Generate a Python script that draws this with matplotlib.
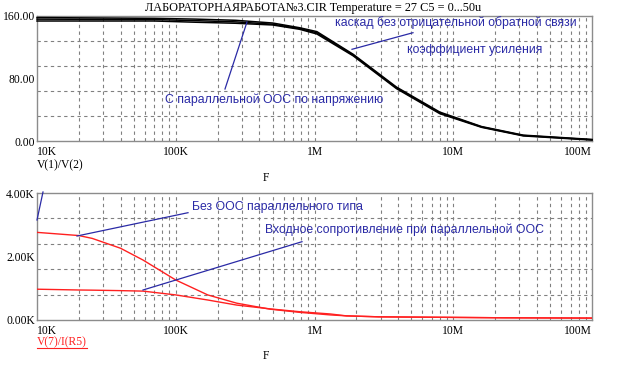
import matplotlib
matplotlib.use("Agg")
import matplotlib.pyplot as plt
import numpy as np
from matplotlib.lines import Line2D

W, H = 622, 369
DPI = 100

# ---------------- data ----------------
title = "ЛАБОРАТОРНАЯРАБОТА№3.CIR Temperature = 27 C5 = 0...50u"

freq_gain = [1e4, 7e4, 1.4e5, 2.7e5, 5e5, 7.8e5, 1.04e6, 1.9e6, 3.9e6, 8e6, 1.6e7, 3.2e7, 1e8]
gain_upper = [158, 157, 156, 154.5, 151, 145, 140, 111, 69, 37, 18.5, 7.5, 2.0]
gain_mid = [156, 155.5, 154, 152.5, 149.5, 144, 138.5, 110, 68, 36, 18, 7, 1.6]
gain_lower = [153.6, 153.6, 152, 150.7, 148.5, 143, 137, 109, 67, 35, 17.5, 6.5, 1.2]

freq_z = [1e4, 2e4, 2.5e4, 4e4, 5.8e4, 1e5, 1.7e5, 2.75e5, 4.8e5, 7.85e5, 1.3e6, 1.7e6, 2.9e6, 2.3e7, 1e8]
z_no_fb = [2.76, 2.66, 2.57, 2.26, 1.89, 1.26, 0.79, 0.53, 0.34, 0.24, 0.16, 0.13, 0.10, 0.07, 0.06]
z_fb = [0.97, 0.945, 0.94, 0.925, 0.91, 0.79, 0.63, 0.47, 0.35, 0.26, 0.19, 0.13, 0.10, 0.07, 0.06]

x_ticks = [1e4, 1e5, 1e6, 1e7, 1e8]
x_ticklabels = ["10K", "100K", "1M", "10M", "100M"]
gain_ticks = [0, 80, 160]
gain_ticklabels = ["0.00", "80.00", "160.00"]
z_ticks = [0, 2, 4]
z_ticklabels = ["0.00K", "2.00K", "4.00K"]

# ---------------- style ----------------
SERIF = ["Liberation Serif", "DejaVu Serif"]
SANS = ["Liberation Sans", "DejaVu Sans"]
BLUE = "#2a2aa6"
RED = "#ff2020"
GRID = "#808080"
FRAME = "#8c8c8c"
TICKFS = 8.4

fig = plt.figure(figsize=(W / DPI, H / DPI), dpi=DPI)
fig.patch.set_facecolor("white")


def px_axes(left, top, right, bottom):
    return fig.add_axes([left / W, 1 - bottom / H, (right - left) / W, (bottom - top) / H])


def fx(x):
    return x / W


def fy(y):
    return 1 - y / H


def setup(ax, ymax, ngrid, yticks, yticklabels):
    ax.set_xscale("log")
    ax.set_xlim(1e4, 1e8)
    ax.set_ylim(0, ymax)
    for s in ax.spines.values():
        s.set_color(FRAME)
        s.set_linewidth(1.0)
    # grid
    for dec in [1e4, 1e5, 1e6, 1e7]:
        for m in range(1, 10):
            v = dec * m
            if v <= 1e4 or v >= 1e8:
                continue
            ax.axvline(v, color=GRID, lw=0.8, ls=(0, (3, 3)), zorder=0)
    for i in range(1, ngrid):
        ax.axhline(ymax * i / ngrid, color=GRID, lw=0.8, ls=(0, (3, 3)), zorder=0)
    ax.set_xticks(x_ticks)
    ax.set_xticklabels(x_ticklabels)
    ax.xaxis.set_minor_locator(matplotlib.ticker.NullLocator())
    ax.set_yticks(yticks)
    ax.set_yticklabels(yticklabels)
    ax.tick_params(axis="x", length=0, pad=3.5)
    ax.tick_params(axis="y", length=0, pad=1.5)
    for lab in ax.get_xticklabels() + ax.get_yticklabels():
        lab.set_family(SERIF)
        lab.set_fontsize(TICKFS)
        lab.set_color("black")
    xl = ax.get_xticklabels()
    xl[0].set_horizontalalignment("left")
    xl[-1].set_horizontalalignment("right")


# ---------------- top plot ----------------
ax1 = px_axes(37, 16, 592, 141)
setup(ax1, 160, 5, gain_ticks, gain_ticklabels)
for g in (gain_upper, gain_mid, gain_lower):
    ax1.plot(freq_gain, g, color="black", lw=1.1, zorder=3, clip_on=False)

# ---------------- bottom plot ----------------
ax2 = px_axes(37, 193, 592, 320)
setup(ax2, 4, 5, z_ticks, z_ticklabels)
ax2.plot(freq_z, z_no_fb, color=RED, lw=1.0, zorder=3)
ax2.plot(freq_z, z_fb, color=RED, lw=1.0, zorder=3)

# ---------------- texts ----------------
fig.text(fx(313), fy(8), title, family=SERIF, fontsize=8.8, ha="center", va="center")
fig.text(fx(37), fy(165), "V(1)/V(2)", family=SERIF, fontsize=TICKFS, ha="left", va="center")
fig.text(fx(266), fy(178), "F", family=SERIF, fontsize=TICKFS, ha="center", va="center")
fig.text(fx(37), fy(342), "V(7)/I(R5)", family=SERIF, fontsize=TICKFS, ha="left", va="center", color=RED)
fig.add_artist(Line2D([fx(37), fx(87)], [fy(347.5), fy(347.5)], color=RED, lw=0.8))
fig.text(fx(266), fy(356), "F", family=SERIF, fontsize=TICKFS, ha="center", va="center")

ANN = dict(family=SANS, fontsize=8.8, color=BLUE, ha="left", va="center")
fig.text(fx(335), fy(23), "каскад без отрицательной обратной связи", **ANN)
fig.text(fx(407), fy(50), "коэффициент усиления", **ANN)
fig.text(fx(165), fy(100), "С параллельной ООС по напряжению", **ANN)
fig.text(fx(192), fy(207), "Без ООС параллельного типа", **ANN)
fig.text(fx(265), fy(230), "Входное сопротивление при параллельной ООС", **ANN)

ann_lines = [
    ((413, 32.7), (352, 49.3)),
    ((247, 22), (225, 89)),
    ((37, 220), (43, 192)),
    ((188, 212.7), (77, 236)),
    ((302, 241.7), (143, 290)),
]
for (x0, y0), (x1, y1) in ann_lines:
    fig.add_artist(Line2D([fx(x0), fx(x1)], [fy(y0), fy(y1)], color=BLUE, lw=0.9, zorder=5))

fig.savefig("out.png", dpi=DPI, facecolor="white")
